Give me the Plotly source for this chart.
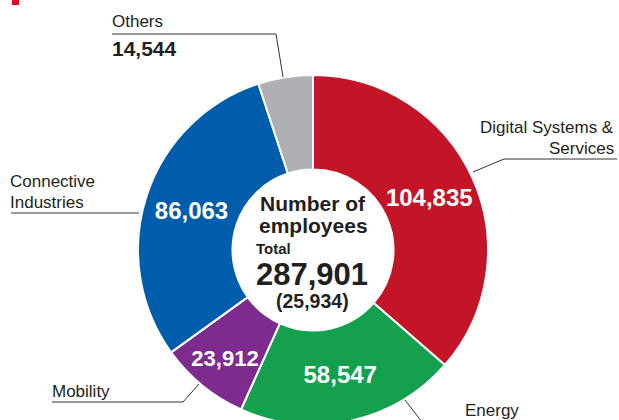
import plotly.graph_objects as go

# ---- data ----
segments = ["Digital Systems & Services", "Energy", "Mobility", "Connective Industries", "Others"]
employees = [104835, 58547, 23912, 86063, 14544]
colors = ["#C41427", "#15A050", "#7E2B8E", "#005DAC", "#AEB0B3"]
total_employees = 287901
total_in_japan_paren = 25934

W, H = 619, 500
def px(x):
    return x / W
def py(y):
    return 1 - y / H

cx, cy, R = 313, 250, 175

fig = go.Figure()
fig.add_trace(go.Pie(
    labels=segments,
    values=employees,
    hole=0.46,
    sort=False,
    direction="clockwise",
    rotation=0,
    marker=dict(colors=colors, line=dict(color="white", width=2)),
    texttemplate=["%{value:,}", "%{value:,}", "%{value:,}", "%{value:,}", ""],
    textposition="inside",
    insidetextorientation="horizontal",
    insidetextfont=dict(family="Liberation Sans", size=24, color="white", weight="bold"),
    hoverinfo="label+value",
    showlegend=False,
    domain=dict(x=[px(cx - R), px(cx + R)], y=[py(cy + R), py(cy - R)]),
))

dark = "#231F20"
font_reg = dict(family="Liberation Sans", size=17, color=dark)
font_bold = lambda s: dict(family="Liberation Sans", size=s, color=dark, weight="bold")

ann = []
def add(text, x, y, font, xanchor="left", yanchor="middle", align="left"):
    ann.append(dict(text=text, x=px(x), y=py(y), xref="paper", yref="paper",
                    showarrow=False, font=font, xanchor=xanchor, yanchor=yanchor, align=align,
                    borderpad=0))

# center text
add("Number of", 313, 204, font_bold(21), xanchor="center")
add("employees", 313, 226, font_bold(21), xanchor="center")
add("Total", 255, 248, font_bold(15))
add(f"{total_employees:,}", 312, 274, font_bold(31), xanchor="center")
add(f"({total_in_japan_paren:,})", 312, 301, font_bold(19.5), xanchor="center")

# outside labels
add("Others", 111, 21, font_reg)
add(f"{employees[4]:,}", 111, 49, font_bold(21))
add("Digital Systems &", 615, 127, font_reg, xanchor="right")
add("Services", 615, 148, font_reg, xanchor="right")
add("Connective", 9, 181, font_reg)
add("Industries", 9, 202, font_reg)
add("Mobility", 51, 391, font_reg)
add("Energy", 464, 410, font_reg)

line = dict(color="#333333", width=1)
shapes = []
def seg(x0, y0, x1, y1):
    shapes.append(dict(type="line", xref="paper", yref="paper",
                       x0=px(x0), y0=py(y0), x1=px(x1), y1=py(y1), line=line))

seg(112, 34, 276, 34); seg(276, 34, 283, 77)
seg(504, 159, 617, 159); seg(504, 159, 473, 172)
seg(11, 213, 139, 213)
seg(52, 402, 183, 402); seg(183, 402, 199, 384)
seg(405, 400, 422, 422)

# small red marker top-left
shapes.append(dict(type="rect", xref="paper", yref="paper",
                   x0=px(12), x1=px(19), y0=py(5), y1=py(-3),
                   fillcolor="#E60026", line=dict(width=0)))

fig.update_layout(
    width=W, height=H,
    margin=dict(l=0, r=0, t=0, b=0),
    paper_bgcolor="white", plot_bgcolor="white",
    annotations=ann, shapes=shapes,
    font=dict(family="Liberation Sans"),
)

fig.write_html("out.html", config={"displayModeBar": False},
               post_script="document.documentElement.style.overflow='hidden';document.body.style.overflow='hidden';document.body.style.margin='0';")
